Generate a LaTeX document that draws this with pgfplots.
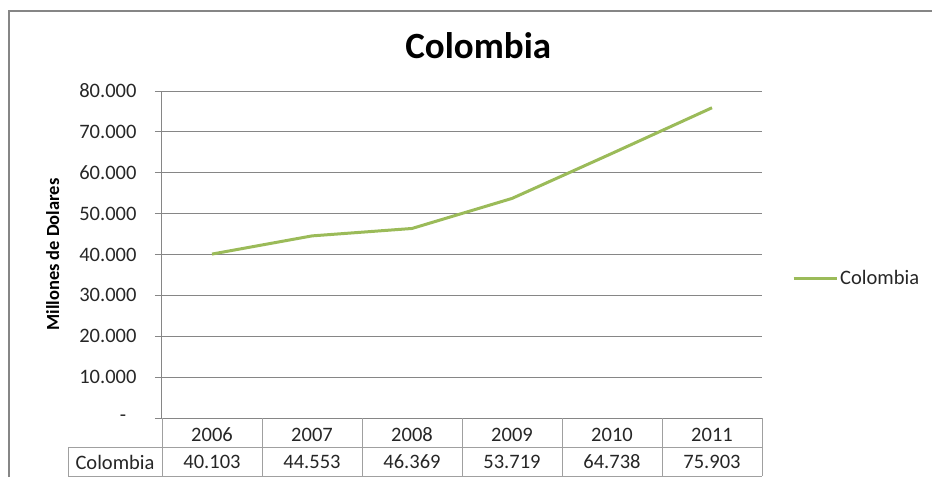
\documentclass[border=0pt]{standalone}
\usepackage{pgfplots}
\pgfplotsset{compat=1.18}
\usepackage{fontspec}
\setmainfont{Carlito}

\definecolor{linegreen}{RGB}{155,187,89}
\definecolor{gridc}{RGB}{134,134,134}
\definecolor{tablec}{RGB}{160,160,160}
\definecolor{txt}{RGB}{38,38,38}

\begin{document}
\begin{tikzpicture}
  % page area and outer chart frame
  \path[use as bounding box] (0pt,0pt) rectangle (932pt,477pt);
  \draw[gridc, line width=1.5pt] (9pt,0pt) -- (9pt,466pt) -- (932pt,466pt);

  \begin{axis}[
    at={(162pt,59pt)}, anchor=south west,
    scale only axis,
    width=600pt, height=327pt,
    xmin=0, xmax=6,
    ymin=0, ymax=80000,
    scaled y ticks=false,
    axis x line=bottom, axis y line=left,
    axis line style={gridc, line width=1pt, -},
    xtick={0.5,1.5,...,5.5},
    xticklabels={2006,2007,2008,2009,2010,2011},
    xticklabel style={anchor=center, yshift=-10pt},
    x tick style={draw=none},
    ytick={0,10000,...,80000},
    yticklabels={-\hphantom{0},10.000,20.000,30.000,40.000,50.000,60.000,70.000,80.000},
    yticklabel style={xshift=-15pt},
    y tick style={gridc, line width=1pt},
    tick align=outside,
    major tick length=7pt,
    ymajorgrids,
    grid style={gridc, line width=1pt},
    tick label style={font=\fontsize{20.5}{24}\selectfont, text=txt},
    title={\textbf{Colombia}},
    title style={at={(axis description cs:0.527,1.12)}, anchor=center,
      font=\fontsize{37}{44}\selectfont, text=black},
    ylabel={\textbf{Millones de Dolares}},
    every axis y label/.style={at={(axis description cs:-0.182,0.5)},
      rotate=90, anchor=center, font=\fontsize{18.5}{22}\selectfont, text=black},
    legend style={at={(1.05,0.428)}, anchor=west, draw=none, inner sep=0pt,
      font=\fontsize{20.5}{24}\selectfont, text=txt},
    legend image code/.code={\draw[#1] (0pt,0pt) -- (43pt,0pt);},
    clip=false,
  ]
    \addplot[linegreen, line width=3pt] coordinates {
      (0.5,40103) (1.5,44553) (2.5,46369) (3.5,53719) (4.5,64738) (5.5,75903)
    };
    \addlegendentry{Colombia}
  \end{axis}

  % data table under the chart
  \begin{scope}[tablec, line width=1pt]
    \foreach \x in {162,262,...,762} \draw (\x pt,59pt) -- (\x pt,1pt);
    \draw (68pt,30pt) -- (762pt,30pt);
    \draw (68pt,1pt) -- (762pt,1pt);
    \draw (68pt,30pt) -- (68pt,1pt);
  \end{scope}
  \begin{scope}[font=\fontsize{20.5}{24}\selectfont, text=txt]
    \node at (115pt,15pt) {Colombia};
    \node at (212pt,15pt) {40.103};
    \node at (312pt,15pt) {44.553};
    \node at (412pt,15pt) {46.369};
    \node at (512pt,15pt) {53.719};
    \node at (612pt,15pt) {64.738};
    \node at (712pt,15pt) {75.903};
  \end{scope}
\end{tikzpicture}
\end{document}
